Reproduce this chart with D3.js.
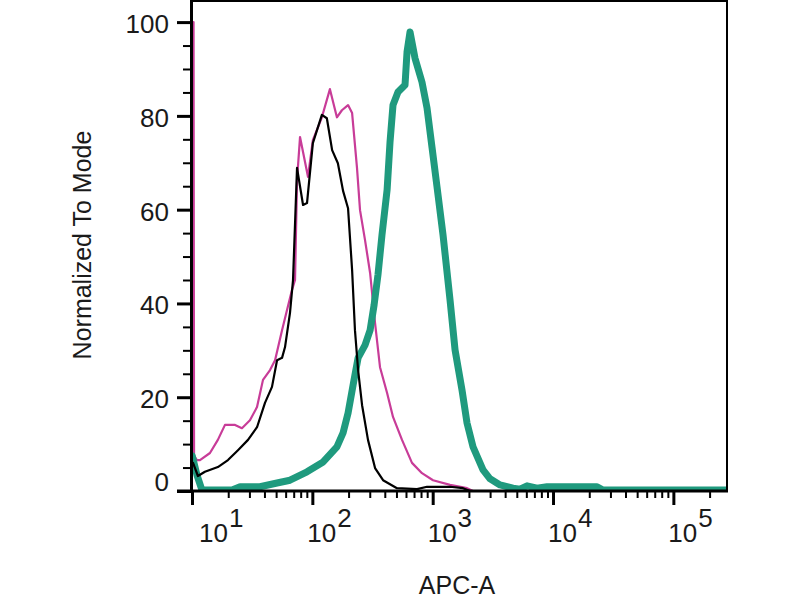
<!DOCTYPE html>
<html><head><meta charset="utf-8">
<script src="https://cdn.jsdelivr.net/npm/d3@7/dist/d3.min.js"></script>
<style>body{margin:0;background:#fff}svg{display:block}</style>
</head><body>
<svg id="chart" width="800" height="600"></svg>
<script>
// ---- data ----
const magentaX = [10.3, 10.4, 11.0, 11.65, 14.1, 16.4, 18.8, 22.8, 26.0, 30.3, 34.7, 38.9, 44.5, 49.0, 56.0, 61.6, 67.8, 71.8, 74.6, 79.0, 92.0, 101, 120, 140, 160, 176, 198, 214, 235, 249, 274, 302, 332, 365, 418, 468, 556, 673, 815, 1006, 1394, 1929, 2164, 279000];
const magentaY = [100, 7.5, 6.6, 6.6, 8.1, 10.9, 14.1, 14.1, 13.4, 15.1, 17.9, 23.7, 25.8, 27.9, 34.3, 38.6, 42.9, 45.0, 66.3, 75.5, 67.0, 74.8, 79.7, 85.7, 79.7, 81.2, 82.3, 80.6, 68.9, 59.9, 53.5, 46.5, 35.8, 26.4, 20.9, 15.8, 10.9, 6.0, 3.8, 2.3, 1.3, 0.6, 0, 0];

const blackX = [10.2, 11.2, 12.8, 16.4, 19.9, 24.1, 29.2, 34.7, 40.4, 46.2, 50.9, 56.0, 59.3, 65.2, 69.1, 74.6, 83.7, 90.3, 101, 120, 132, 146, 163, 180, 198, 214, 226, 240, 259, 290, 332, 387, 505, 741, 897, 1394, 1787, 2044, 279000];
const blackY = [6, 3.2, 4.1, 5.1, 6.6, 8.7, 10.9, 13.6, 18.8, 22.2, 27.9, 28.4, 30.7, 38.0, 45.0, 68.9, 61.0, 61.4, 74.2, 80.2, 79.5, 72.7, 69.9, 64.0, 60.3, 47.1, 34.3, 25.8, 18.3, 10.9, 4.9, 2.3, 0.6, 0.4, 0.9, 0.9, 0.6, 0, 0];

const tealX = [10.05, 11.0, 12.1, 21.5, 25.1, 36.7, 50.9, 65.2, 90.3, 123, 160, 180, 198, 218, 240, 274, 302, 326, 351, 379, 418, 442, 468, 515, 589, 612, 648, 713, 815, 897, 987, 1087, 1219, 1394, 1534, 1753, 1929, 2164, 2620, 2996, 3627, 4652, 5318, 6081, 7364, 8917, 23217, 26040, 279000];
const tealY = [7.5, 3.4, 0.2, 0.2, 0.9, 0.9, 1.7, 2.3, 4.1, 6.2, 9.4, 12.4, 16.6, 22.6, 28.4, 31.1, 34.3, 39.7, 46.1, 54.6, 64.2, 74.4, 82.3, 85.1, 86.6, 93.6, 97.9, 92.3, 87.2, 81.7, 73.3, 64.8, 54.6, 40.7, 30.1, 21.5, 14.5, 9.4, 4.5, 2.6, 1.3, 0.6, 0.4, 1.1, 0.6, 0.9, 0.9, 0.2, 0.2];

const xMajorTicks = [10, 100, 1000, 10000, 100000];
const xTickBase = "10";
const xTickExponents = ["1", "2", "3", "4", "5"];
const yMajorTicks = [0, 20, 40, 60, 80, 100];
const yMinorStep = 5;
const xDomain = [10, 279000];
const yDomain = [0, 104.5];
const xTitle = "APC-A";
const yTitle = "Normalized To Mode";

// ---- layout ----
const L = 192, R = 727, T = 1, B = 491;
const font = "'Liberation Sans', Arial, Helvetica, sans-serif";
const svg = d3.select("#chart");

const x = d3.scaleLog().domain(xDomain).range([L, R]);
const y = d3.scaleLinear().domain(yDomain).range([B, T]);

// clip
svg.append("defs").append("clipPath").attr("id", "plotclip")
  .append("rect").attr("x", L).attr("y", 0).attr("width", R - L).attr("height", B);

const series = [
  {xs: magentaX, ys: magentaY, color: "#c83c98", width: 2.2},
  {xs: tealX, ys: tealY, color: "#1f9a7e", width: 7},
  {xs: blackX, ys: blackY, color: "#000000", width: 2.2}
];

const line = d3.line().x(d => x(d[0])).y(d => y(d[1])).curve(d3.curveLinear);
const gLines = svg.append("g").attr("clip-path", "url(#plotclip)");
series.forEach(s => {
  gLines.append("path")
    .datum(s.xs.map((v, i) => [v, s.ys[i]]))
    .attr("d", line)
    .attr("fill", "none")
    .attr("stroke", s.color)
    .attr("stroke-width", s.width)
    .attr("stroke-linejoin", "round")
    .attr("stroke-linecap", "round");
});

// frame top/right
svg.append("line").attr("x1", L).attr("x2", R).attr("y1", T).attr("y2", T)
  .attr("stroke", "#000").attr("stroke-width", 2);
svg.append("line").attr("x1", R).attr("x2", R).attr("y1", 0).attr("y2", B)
  .attr("stroke", "#000").attr("stroke-width", 2);

// y axis ticks
const yMinor = d3.range(yDomain[0], yDomain[1], yMinorStep).filter(v => !yMajorTicks.includes(v));
function styleAxis(g, w) {
  g.select(".domain").remove();
  g.selectAll(".tick line").attr("stroke", "#000").attr("stroke-width", w);
}
svg.append("g").attr("transform", `translate(${L},0)`)
  .call(d3.axisLeft(y).tickValues(yMinor).tickSize(9).tickSizeOuter(0).tickFormat(""))
  .call(g => styleAxis(g, 2));
svg.append("g").attr("transform", `translate(${L},0)`)
  .call(d3.axisLeft(y).tickValues(yMajorTicks).tickSize(15).tickSizeOuter(0).tickFormat(""))
  .call(g => styleAxis(g, 3));

// x axis ticks
const xMinor = [];
xMajorTicks.forEach(m => { for (let k = 2; k <= 9; k++) { if (m * k <= xDomain[1]) xMinor.push(m * k); } });
svg.append("g").attr("transform", `translate(0,${B})`)
  .call(d3.axisBottom(x).tickValues(xMinor).tickSize(7).tickSizeOuter(0).tickFormat(""))
  .call(g => styleAxis(g, 2));
svg.append("g").attr("transform", `translate(0,${B})`)
  .call(d3.axisBottom(x).tickValues(xMajorTicks).tickSize(14).tickSizeOuter(0).tickFormat(""))
  .call(g => styleAxis(g, 3));

// axis lines
svg.append("line").attr("x1", L - 0.5).attr("x2", L - 0.5).attr("y1", 0).attr("y2", B + 1.5)
  .attr("stroke", "#000").attr("stroke-width", 3);
svg.append("line").attr("x1", L - 15).attr("x2", R + 1).attr("y1", B).attr("y2", B)
  .attr("stroke", "#000").attr("stroke-width", 3);

// y tick labels
svg.append("g").selectAll("text").data(yMajorTicks).join("text")
  .attr("x", 169)
  .attr("y", d => Math.min(y(d) + 11, y(0) - 0.5))
  .attr("text-anchor", "end")
  .attr("font-family", font).attr("font-size", 26).attr("fill", "#1a1a1a")
  .text(d => d);

// x tick labels (10 with superscript exponent)
const xl = svg.append("g").selectAll("text").data(xMajorTicks).join("text")
  .attr("x", d => Math.max(x(d) - 5, L + 7))
  .attr("y", 542)
  .attr("font-family", font).attr("font-size", 26).attr("fill", "#1a1a1a");
xl.append("tspan").text(xTickBase);
xl.append("tspan").attr("dy", -15).attr("dx", 1).text((d, i) => xTickExponents[i]);

// axis titles
svg.append("text").attr("x", 457).attr("y", 594).attr("text-anchor", "middle")
  .attr("font-family", font).attr("font-size", 25).attr("fill", "#1a1a1a").text(xTitle);
svg.append("text").attr("transform", "translate(91,245) rotate(-90)").attr("text-anchor", "middle")
  .attr("font-family", font).attr("font-size", 25).attr("fill", "#1a1a1a").text(yTitle);
</script>
</body></html>
